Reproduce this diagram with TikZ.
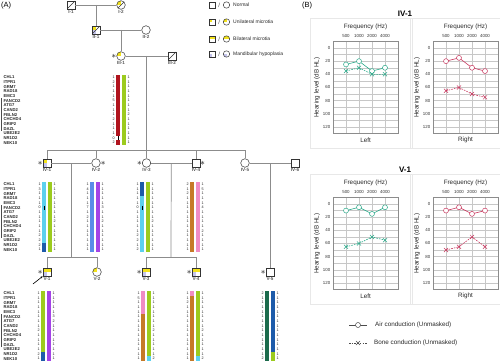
\documentclass[tikz,border=0pt]{standalone}
\usepackage{fontspec}
\setmainfont{Liberation Sans}
\usetikzlibrary{calc,arrows.meta,shapes.misc}

\definecolor{micyel}{HTML}{F2E21C}
\definecolor{mandlav}{HTML}{C4C4EC}
\definecolor{hapred}{HTML}{B0141E}
\definecolor{hapgrn}{HTML}{9CCB1E}
\definecolor{hapcyan}{HTML}{5CD0EE}
\definecolor{hapnavy}{HTML}{1D5BAA}
\definecolor{hapblue}{HTML}{5A8CE8}
\definecolor{happur}{HTML}{A443E6}
\definecolor{haporg}{HTML}{C67A28}
\definecolor{happink}{HTML}{F08CC4}
\definecolor{hapdkgrn}{HTML}{1C6B4C}
\definecolor{leftear}{HTML}{2BA98A}
\definecolor{rightear}{HTML}{C8375E}

% fillings of the pedigree symbols
\newcommand{\qUni}{\fill[micyel] (path picture bounding box.north west) rectangle (path picture bounding box.center);}
\newcommand{\qBil}{\fill[micyel] (path picture bounding box.north west) rectangle (path picture bounding box.east);}
\newcommand{\qMand}{\fill[mandlav] (path picture bounding box.south west) rectangle (path picture bounding box.center);}
\newcommand{\qDec}{\draw[black!80, line width=0.5pt] (path picture bounding box.south west) -- (path picture bounding box.north east);}

% haplotype helpers
\newcommand{\hseg}[5]{\fill[#5] (#1,{#2+#3*4.667}) rectangle ({#1+4.2},{#2+#4*4.667});}
\newcommand{\hmark}[3]{\draw[black, line width=0.9pt] ({#1+2.1},{#2+#3*4.667+0.5}) -- ({#1+2.1},{#2+(#3+1)*4.667-0.5});}
\newcommand{\hnums}[4]{%
  \foreach \v [count=\i from 0] in {#3} \node[hnum, anchor=east] at ({#1-1},{#2+(\i+0.5)*4.667}) {\v};
  \foreach \v [count=\i from 0] in {#4} \node[hnum, anchor=west] at ({#1+11.4},{#2+(\i+0.5)*4.667}) {\v};
}
\newcommand{\genelist}[1]{%
  \foreach \g [count=\i from 0] in {CHL1,ITPR1,GRM7,RAD18,EMC3,FANCD2,ATG7,CAND2,FBLN2,CHCHD4,GRIP2,DAZL,UBE2E2,NR1D2,NEK10}
    \node[gene] at (3.4,{#1+(\i+0.5)*4.667}) {\g};
  \draw[black!70, line width=0.7pt] (1.6,{#1+5*4.667}) -- (1.6,{#1+12*4.667});
}

% audiogram helpers
\newcommand{\chartframe}[3]{%
  \draw[black!9, line width=0.4pt] ({#1-23},{#2-30}) rectangle ({#1+79},{#2+100});
  \foreach \d in {-10,0,...,130} \draw[gridc] (#1,{#2+\d*0.658}) -- ({#1+65},{#2+\d*0.658});
  \foreach \k in {0,...,5} \draw[gridc] ({#1+13*\k},{#2-6.58}) -- ({#1+13*\k},{#2+85.54});
  \draw[black!45, line width=0.4pt] (#1,{#2-6.58}) rectangle ({#1+65},{#2+85.54});
  \foreach \d in {0,20,...,120} \node[ticklab, anchor=east] at ({#1-2.5},{#2+\d*0.658}) {\d};
  \foreach \k/\f in {1/500,2/1000,3/2000,4/4000} \node[ticklab] at ({#1+13*\k},{#2-12}) {\f};
  \node[axlab] at ({#1+32.5},{#2-21}) {Frequency (Hz)};
  \node[axlab, rotate=90] at ({#1-16},{#2+39.5}) {Hearing level (dB HL)};
  \node[axlab] at ({#1+32.5},{#2+92}) {#3};
}
\newcommand{\aircurve}[7]{%
  \draw[#3, line width=0.6pt] ({#1+13},{#2+#4*0.658}) -- ({#1+26},{#2+#5*0.658}) -- ({#1+39},{#2+#6*0.658}) -- ({#1+52},{#2+#7*0.658});
  \foreach \k/\v in {1/#4,2/#5,3/#6,4/#7} \node[airmk, draw=#3] at ({#1+13*\k},{#2+\v*0.658}) {};
}
\newcommand{\bonecurve}[7]{%
  \draw[#3, line width=0.6pt, dash pattern=on 1.6pt off 1.1pt] ({#1+13},{#2+#4*0.658}) -- ({#1+26},{#2+#5*0.658}) -- ({#1+39},{#2+#6*0.658}) -- ({#1+52},{#2+#7*0.658});
  \foreach \k/\v in {1/#4,2/#5,3/#6,4/#7} \node[bonemk, draw=#3] at ({#1+13*\k},{#2+\v*0.658}) {};
}

\tikzset{
  pedline/.style={draw=black!45, line width=0.7pt},
  male/.style={draw=black!80, line width=0.5pt, rectangle, minimum size=8pt, inner sep=0pt, fill=white},
  female/.style={draw=black!80, line width=0.5pt, circle, minimum size=8.6pt, inner sep=0pt, fill=white},
  keymale/.style={male, minimum size=6pt},
  keyfemale/.style={female, minimum size=6.4pt},
  fig/.style={path picture={#1}},
  idlab/.style={font=\fontsize{4.6}{5}\selectfont\bfseries, text=black!65, inner sep=0.6pt},
  starl/.style={font=\fontsize{9}{9}\selectfont, inner sep=0pt},
  gene/.style={anchor=west, inner sep=0pt, font=\fontsize{4.2}{4.2}\selectfont\bfseries, text=black!85},
  hnum/.style={inner sep=0pt, font=\fontsize{3.7}{3.7}\selectfont, text=black!85},
  keytext/.style={anchor=west, inner sep=0pt, font=\fontsize{5}{6}\selectfont, text=black!85},
  gridc/.style={draw=black!22, line width=0.3pt},
  ticklab/.style={inner sep=0pt, font=\fontsize{4.4}{5}\selectfont, text=black!80},
  axlab/.style={inner sep=0pt, font=\fontsize{6.3}{7}\selectfont, text=black!85},
  airmk/.style={circle, fill=white, line width=0.5pt, minimum size=5pt, inner sep=0pt},
  bonemk/.style={cross out, line width=0.5pt, minimum size=3.6pt, inner sep=0pt},
  paneltag/.style={anchor=west, inner sep=0pt, font=\fontsize{7.5}{8}\selectfont},
}

\begin{document}
\begin{tikzpicture}[x=1pt, y=-1pt]
  \useasboundingbox (0,0) rectangle (500,361);

  \node[paneltag] (tagA) at (1,6) {(A)};
  \node[paneltag] (tagB) at (302,6) {(B)};

  % generations I to III
  \node[male, fig={\qDec}, label={[idlab]below:I-1}] (I1) at (71,5) {};
  \node[female, fig={\qUni\qDec}, label={[idlab]below:I-2}] (I2) at (121,5) {};
  \node[male, fig={\qUni\qMand\qDec}, label={[idlab]below:II-1}] (II1) at (96,30) {};
  \node[female, label={[idlab]below:II-2}] (II2) at (146,30) {};
  \node[female, fig={\qUni}, label={[idlab]below:III-1}, label={[starl]left:$\ast$}] (III1) at (121,56) {};
  \node[male, fig={\qDec}, label={[idlab]below:III-2}] (III2) at (172,56) {};

  % generation IV
  \node[male, fig={\qUni\qMand}, label={[idlab]below:IV-1}, label={[starl]left:$\ast$}] (IV1) at (47,163) {};
  \node[female, label={[idlab]below:IV-2}, label={[starl]right:$\ast$}] (IV2) at (96,163) {};
  \node[female, label={[idlab]below:IV-3}, label={[starl]left:$\ast$}] (IV3) at (146.5,163) {};
  \node[male, label={[idlab]below:IV-4}, label={[starl]right:$\ast$}] (IV4) at (196,163) {};
  \node[female, label={[idlab]below:IV-5}] (IV5) at (245,163) {};
  \node[male, label={[idlab]below:IV-6}] (IV6) at (295,163) {};

  % generation V
  \node[male, fig={\qBil\qMand}, label={[idlab]below:V-1}, label={[starl]left:$\ast$}] (V1) at (47,272) {};
  \node[female, fig={\qUni}, label={[idlab]below:V-2}] (V2) at (97,272) {};
  \node[male, fig={\qBil\qMand}, label={[idlab]below:V-3}, label={[starl]left:$\ast$}] (V3) at (146,272) {};
  \node[male, fig={\qBil\qMand}, label={[idlab]below:V-4}, label={[starl]left:$\ast$}] (V4) at (196,272) {};
  \node[male, label={[idlab]below:V-5}, label={[starl]left:$\ast$}] (V5) at (270,272) {};
  \coordinate (pb) at (33,284);
  \draw[-{Stealth[length=2.6pt]}, line width=0.6pt] (pb) -- (V1.south west);

  % lines of descent
  \draw[pedline] (I1) -- (I2);
  \coordinate (m1) at ($(I1)!0.5!(I2)$);
  \draw[pedline] (m1) -- (II1);
  \draw[pedline] (II1) -- (II2);
  \coordinate (m2) at ($(II1)!0.5!(II2)$);
  \draw[pedline] (m2) -- (III1);
  \draw[pedline] (III1) -- (III2);
  \coordinate (m3) at ($(III1)!0.5!(III2)$);
  \coordinate (s4) at (146.5,150);
  \draw[pedline] (m3) -- (s4);
  \draw[pedline] (s4 -| IV1) -- (s4 -| IV5);
  \foreach \n in {IV1,IV2,IV3,IV4,IV5} \draw[pedline] (s4 -| \n) -- (\n);
  \draw[pedline] (IV1) -- (IV2);
  \draw[pedline] (IV3) -- (IV4);
  \draw[pedline] (IV5) -- (IV6);
  \coordinate (m4) at ($(IV1)!0.5!(IV2)$);
  \coordinate (m5) at ($(IV3)!0.5!(IV4)$);
  \coordinate (m6) at ($(IV5)!0.5!(IV6)$);
  \coordinate (s5) at (71.5,257);
  \coordinate (s6) at (171,257);
  \draw[pedline] (m4) -- (s5);
  \draw[pedline] (s5 -| V1) -- (s5 -| V2);
  \foreach \n in {V1,V2} \draw[pedline] (s5 -| \n) -- (\n);
  \draw[pedline] (m5) -- (s6);
  \draw[pedline] (s6 -| V3) -- (s6 -| V4);
  \foreach \n in {V3,V4} \draw[pedline] (s6 -| \n) -- (\n);
  \draw[pedline] (m6) -- (V5);

  % key
  \foreach \r/\pp/\t in {5/{}/Normal, 22/{\qUni}/Unilateral microtia, 39/{\qBil}/Bilateral microtia, 54/{\qMand}/Mandibular hypoplasia}{
    \node[keymale, fig={\pp}] (km\r) at (212,\r) {};
    \node[keyfemale, fig={\pp}] (kf\r) at (226.5,\r) {};
    \node[inner sep=0pt, font=\fontsize{6}{6}\selectfont, text=black!70] at ($(km\r)!0.5!(kf\r)$) {/};
    \node[keytext] at (233,\r) {\t};
  }

  % haplotypes
  \genelist{75}
  \genelist{182}
  \genelist{291}

  % III-1
  \hseg{116}{75}{0}{15}{hapred}
  \fill[white] (116,{75+13*4.667}) rectangle (120.2,{75+14*4.667});
  \hmark{116}{75}{13}
  \hseg{122}{75}{0}{15}{hapgrn}
  \hnums{116}{75}{1,2,1,1,1,5,1,1,1,2,1,1,1,0,2}{1,1,1,1,1,1,1,1,2,1,1,1,1,1,1}
  % IV-1
  \hseg{42}{182}{0}{13}{hapcyan}
  \hseg{42}{182}{13}{15}{hapnavy}
  \hmark{42}{182}{5}
  \hseg{48}{182}{0}{15}{hapgrn}
  \hnums{42}{182}{1,3,1,1,1,0,1,1,1,1,1,2,2,2,1}{1,1,1,1,1,1,1,1,2,1,1,1,1,1,1}
  % IV-2
  \hseg{90}{182}{0}{15}{hapblue}
  \hseg{96}{182}{0}{15}{happur}
  \hnums{90}{182}{1,4,1,1,1,7,1,2,1,1,1,1,1,1,1}{1,1,1,1,1,3,1,1,2,1,1,1,1,1,1}
  % IV-3
  \hseg{140}{182}{0}{3}{hapnavy}
  \hseg{140}{182}{3}{15}{hapcyan}
  \hmark{140}{182}{5}
  \hseg{146}{182}{0}{15}{hapgrn}
  \hnums{140}{182}{1,1,1,1,1,0,1,1,1,1,1,2,2,1,2}{1,1,1,1,1,1,1,1,2,1,1,1,1,1,1}
  % IV-4
  \hseg{190}{182}{0}{15}{haporg}
  \hseg{196}{182}{0}{15}{happink}
  \hnums{190}{182}{2,1,2,1,1,1,1,1,1,1,1,1,1,1,1}{1,5,1,1,1,4,1,1,1,1,2,1,1,1,1}
  % V-1
  \hseg{41}{291}{0}{13}{hapgrn}
  \hseg{41}{291}{13}{15}{hapnavy}
  \hseg{47}{291}{0}{15}{happur}
  \hnums{41}{291}{1,1,1,1,1,1,1,1,2,1,1,1,1,2,1}{1,1,1,1,1,3,2,1,1,1,1,1,1,1,1}
  % V-3
  \hseg{141}{291}{0}{5}{happink}
  \hseg{141}{291}{5}{15}{haporg}
  \hseg{147}{291}{0}{14}{hapgrn}
  \hseg{147}{291}{14}{15}{hapcyan}
  \hnums{141}{291}{1,5,1,1,1,1,1,1,1,1,1,1,1,1,1}{1,1,1,1,1,1,1,1,2,1,1,1,1,1,2}
  % V-4
  \hseg{190}{291}{0}{1}{happink}
  \hseg{190}{291}{1}{15}{haporg}
  \hseg{196}{291}{0}{14}{hapgrn}
  \hseg{196}{291}{14}{15}{hapcyan}
  \hnums{190}{291}{1,1,2,1,1,1,1,1,1,1,1,1,1,1,1}{1,1,1,1,1,1,1,1,2,1,1,1,1,1,2}
  % V-5
  \hseg{265}{291}{0}{15}{hapdkgrn}
  \hseg{271}{291}{0}{13}{hapnavy}
  \hseg{271}{291}{13}{15}{hapgrn}
  \hnums{265}{291}{2,1,1,1,1,1,1,1,1,1,1,1,1,1,2}{1,1,1,1,1,1,1,1,1,1,1,1,1,1,1}

  % audiograms
  \node[inner sep=0pt, font=\fontsize{8}{8}\selectfont\bfseries] (tIV) at (405,14) {IV-1};
  \node[inner sep=0pt, font=\fontsize{8}{8}\selectfont\bfseries] (tV) at (405,170) {V-1};
  \chartframe{333}{48}{Left}
  \chartframe{433}{48}{Right}
  \chartframe{333}{204}{Left}
  \chartframe{433}{204}{Right}
  \aircurve{333}{48}{leftear}{25}{20}{35}{30}
  \bonecurve{333}{48}{leftear}{35}{30}{40}{40}
  \aircurve{433}{48}{rightear}{20}{15}{30}{35}
  \bonecurve{433}{48}{rightear}{65}{60}{70}{75}
  \aircurve{333}{204}{leftear}{10}{5}{15}{5}
  \bonecurve{333}{204}{leftear}{65}{60}{50}{55}
  \aircurve{433}{204}{rightear}{10}{5}{15}{10}
  \bonecurve{433}{204}{rightear}{70}{65}{50}{65}

  % key of the audiograms
  \coordinate (ka1) at (349,325);
  \coordinate (ka2) at (367,325);
  \coordinate (kb1) at (349,343);
  \coordinate (kb2) at (367,343);
  \draw[black!70, line width=0.5pt] (ka1) -- (ka2);
  \node[airmk, draw=black!70] (kair) at ($(ka1)!0.5!(ka2)$) {};
  \draw[black!70, line width=0.5pt, dash pattern=on 1.6pt off 1.1pt] (kb1) -- (kb2);
  \node[bonemk, draw=black!70] (kbone) at ($(kb1)!0.5!(kb2)$) {};
  \node[axlab, anchor=west] (tair) at (375,325) {Air conduction (Unmasked)};
  \node[axlab, anchor=west] (tbone) at (374,343) {Bone conduction (Unmasked)};
\end{tikzpicture}
\end{document}
